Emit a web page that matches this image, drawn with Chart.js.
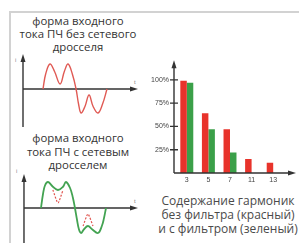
<!DOCTYPE html>
<html>
<head>
<meta charset="utf-8">
<script src="https://cdn.jsdelivr.net/npm/chart.js@4.4.1/dist/chart.umd.min.js"></script>
<style>
  body { margin: 0; width: 299px; height: 243px; overflow: hidden; background: #fff; position: relative;
         font-family: "Open Sans", sans-serif; }
  .frame { position: absolute; left: 9px; top: 11px; right: 0; bottom: 0;
           border-top: 2px solid #d2d2d2; border-left: 2px solid #d2d2d2; }
  .cap { position: absolute; text-align: center; color: #333; font-size: 11.4px; line-height: 13px; white-space: nowrap; }
  .lbl { position: absolute; font-size: 5px; color: #666; }
  canvas { position: absolute; }
</style>
</head>
<body>
<div class="frame"></div>

<div class="cap" style="left:3px;width:150px;top:14px">форма входного<br>тока ПЧ без сетевого<br>дросселя</div>
<div class="cap" style="left:3px;width:150px;top:131px;line-height:13.6px">форма входного<br>тока ПЧ с сетевым<br>дросселем</div>
<div class="cap" style="left:158px;width:140px;top:194px;font-size:12px;line-height:14.2px;color:#4a4a4a">Содержание гармоник<br>без фильтра (красный)<br>и с фильтром (зеленый)</div>

<span class="lbl" style="left:15px;top:57px">i</span>
<span class="lbl" style="left:134px;top:79px">t</span>
<span class="lbl" style="left:16px;top:168px">i</span>
<span class="lbl" style="left:134px;top:198px">t</span>

<canvas id="wave1" width="150" height="80" style="left:0;top:50px"></canvas>
<canvas id="wave2" width="150" height="73" style="left:0;top:170px"></canvas>
<canvas id="harm" width="159" height="140" style="left:140px;top:50px"></canvas>

<script>
// ── форма тока без дросселя (градусы периода / относительная амплитуда) ──
const wave1Deg = [0, 15, 39, 65, 96, 120, 141, 165, 186, 200, 214, 236, 259, 282, 309, 335, 360];
const wave1Amp = [0, 0.6, 1.0, 0.7, 0.2, 0.7, 1.0, 0.6, 0, -0.6, -0.96, -0.7, -0.24, -0.7, -0.96, -0.6, 0];

// ── форма тока с дросселем ──
const wave2Deg = [0, 11, 22, 39, 66, 94, 122, 138, 161, 177, 188, 199, 210, 222, 238, 260, 283, 316, 338, 349, 360];
const wave2Amp = [0, 0.55, 0.9, 1.04, 0.85, 0.72, 0.85, 1.04, 0.8, 0.4, 0, -0.45, -0.85, -1.0, -0.85, -0.72, -0.85, -1.0, -0.7, -0.4, 0];

// пунктир: прежние провалы формы тока
const ghostDeg = [66, 94, 122, 190, 233, 260, 288];
const ghostAmp = [0.72, 0.2, 0.72, null, -0.72, -0.24, -0.72];

// ── гармоники ──
const harmonics = ["3", "5", "7", "11", "13"];
const noFilter = [99, 64, 47, 15, 11];
const withFilter = [97, 47, 22, null, null];
const yTicks = [25, 50, 75, 100];

const AXIS = "#333";

function pts(xs, ys) {
    return xs.map((x, i) => ({ x: x, y: ys[i] }));
}

function arrow(ctx, x, y, dir) {
    // dir: "up" или "right"
    ctx.beginPath();
    if (dir === "up") {
        ctx.moveTo(x, y - 1);
        ctx.lineTo(x - 2.5, y + 7);
        ctx.lineTo(x + 2.5, y + 7);
    } else {
        ctx.moveTo(x + 1, y);
        ctx.lineTo(x - 7, y - 2.5);
        ctx.lineTo(x - 7, y + 2.5);
    }
    ctx.closePath();
    ctx.fill();
}

// оси со стрелками для осциллограмм
function waveAxes(cfg) {
    return {
        id: "waveAxes",
        beforeDatasetsDraw(chart) {
            const { ctx, scales: { x, y } } = chart;
            const px0 = x.getPixelForValue(cfg.x0);
            const px1 = x.getPixelForValue(cfg.x1);
            const pyTop = y.getPixelForValue(cfg.yTop);
            const pyBot = y.getPixelForValue(cfg.yBot);
            const py0 = y.getPixelForValue(0);
            ctx.save();
            ctx.strokeStyle = AXIS;
            ctx.fillStyle = AXIS;
            ctx.lineWidth = 1.4;
            ctx.beginPath();
            ctx.moveTo(px0, pyBot);
            ctx.lineTo(px0, pyTop + 5);
            ctx.moveTo(px0, py0);
            ctx.lineTo(px1 - 5, py0);
            ctx.stroke();
            arrow(ctx, px0, pyTop, "up");
            arrow(ctx, px1, py0, "right");
            ctx.restore();
        }
    };
}

function waveOptions(xMin, xMax, yMin, yMax) {
    return {
        responsive: false,
        animation: false,
        layout: { padding: 0, autoPadding: false },
        plugins: { legend: { display: false }, tooltip: { enabled: false } },
        elements: { point: { radius: 0 }, line: { tension: 0.4 } },
        scales: {
            x: { type: "linear", min: xMin, max: xMax, display: false },
            y: { type: "linear", min: yMin, max: yMax, display: false }
        }
    };
}

new Chart(document.getElementById("wave1"), {
    type: "line",
    data: {
        datasets: [{
            data: pts(wave1Deg, wave1Amp),
            borderColor: "#e05a54",
            borderWidth: 1.4
        }]
    },
    options: waveOptions(-241.9, 601.9, -1.64, 1.56),
    plugins: [waveAxes({ x0: -112.5, x1: 528.75, yTop: 1.36, yBot: -1.52 })]
});

new Chart(document.getElementById("wave2"), {
    type: "line",
    data: {
        datasets: [{
            data: pts(ghostDeg, ghostAmp),
            borderColor: "#e0524c",
            borderWidth: 1.2,
            borderDash: [2, 1.5],
            spanGaps: false,
            tension: 0.2
        }, {
            data: pts(wave2Deg, wave2Amp),
            borderColor: "#43a352",
            borderWidth: 1.8
        }]
    },
    options: waveOptions(-227, 603.7, -1.4, 1.52),
    plugins: [waveAxes({ x0: -94.2, x1: 531.8, yTop: 1.32, yBot: -1.4 })]
});

// оси гистограммы: вертикаль, горизонталь, засечки
const harmAxes = {
    id: "harmAxes",
    afterDatasetsDraw(chart) {
        const { ctx, chartArea: a, scales: { y } } = chart;
        const x0 = a.left - 2;
        const x1 = a.right + 11;
        ctx.save();
        ctx.strokeStyle = AXIS;
        ctx.fillStyle = AXIS;
        ctx.lineWidth = 1.4;
        ctx.beginPath();
        ctx.moveTo(x0, a.bottom);
        ctx.lineTo(x0, a.top + 5);
        ctx.moveTo(x0, a.bottom);
        ctx.lineTo(x1 - 5, a.bottom);
        yTicks.forEach(v => {
            const py = y.getPixelForValue(v);
            ctx.moveTo(x0 - 4, py);
            ctx.lineTo(x0 + 4, py);
        });
        ctx.stroke();
        arrow(ctx, x0, a.top, "up");
        arrow(ctx, x1, a.bottom, "right");
        ctx.restore();
    }
};

new Chart(document.getElementById("harm"), {
    type: "bar",
    data: {
        labels: harmonics,
        datasets: [{
            label: "без фильтра",
            data: noFilter,
            backgroundColor: "#e8332b"
        }, {
            label: "с фильтром",
            data: withFilter,
            backgroundColor: "#3ba049"
        }]
    },
    options: {
        responsive: false,
        animation: false,
        layout: { padding: { top: 5, right: 15, left: 0, bottom: 0 } },
        plugins: { legend: { display: false }, tooltip: { enabled: false } },
        datasets: { bar: { categoryPercentage: 0.6, barPercentage: 1 } },
        scales: {
            x: {
                grid: { display: false, drawTicks: false },
                border: { display: false },
                ticks: { color: "#444", font: { size: 7 }, padding: 3 },
                afterFit: s => { s.height = 17; }
            },
            y: {
                min: 0,
                max: 120,
                afterBuildTicks: s => { s.ticks = yTicks.map(v => ({ value: v })); },
                grid: { display: false, drawTicks: false },
                border: { display: false },
                ticks: { color: "#444", font: { size: 7 }, padding: 7, callback: v => v + "%" },
                afterFit: s => { s.width = 36; }
            }
        }
    },
    plugins: [harmAxes]
});
</script>
</body>
</html>
